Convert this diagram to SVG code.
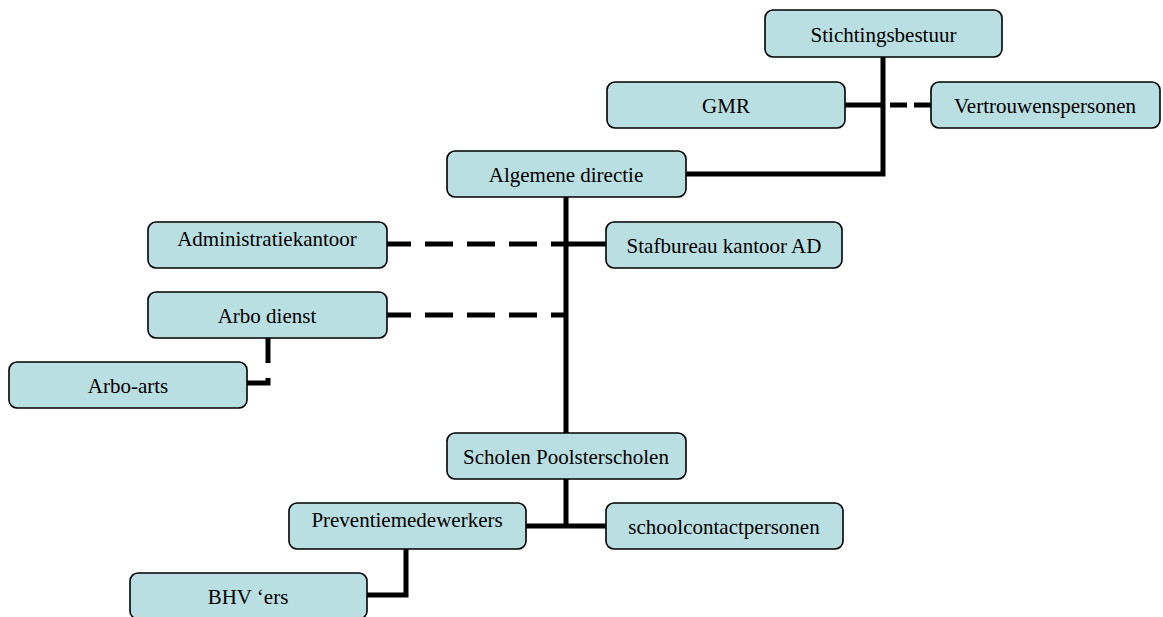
<svg xmlns="http://www.w3.org/2000/svg" width="1163" height="617" viewBox="0 0 1163 617">
<style>
.box{fill:#b9dfe3;stroke:#000;stroke-width:1.6}
.lbl{font-family:"Liberation Serif","Times New Roman",serif;font-size:21px;fill:#000;text-anchor:middle}
.ln{fill:none;stroke:#000;stroke-width:5}
.dash{stroke-dasharray:28 14}
</style>
<rect width="1163" height="617" fill="#fff"/>
<g id="connectors">
<path class="ln" d="M883,57 V174 H686"/>
<path class="ln" d="M845,105 H883"/>
<path class="ln" d="M890,105 H931" stroke-dasharray="17 7"/>
<path class="ln" d="M566,197 V433"/>
<path class="ln" d="M566,244 H606"/>
<path class="ln dash" d="M387,244 H567" stroke-dashoffset="4"/>
<path class="ln dash" d="M387,315 H567" stroke-dashoffset="4"/>
<path class="ln" d="M268,338 V383 H247" stroke-dasharray="25 15 40"/>
<path class="ln" d="M566,479 V526"/>
<path class="ln" d="M526,526 H606"/>
<path class="ln" d="M406,549 V595 H367"/>
</g>
<g id="stichtingsbestuur"><rect class="box" x="765" y="10" width="237" height="47" rx="8"/><text class="lbl" x="883.5" y="41.5">Stichtingsbestuur</text></g>
<g id="gmr"><rect class="box" x="607" y="82" width="238" height="46" rx="8"/><text class="lbl" x="726" y="112.5">GMR</text></g>
<g id="vertrouwenspersonen"><rect class="box" x="931" y="82" width="229" height="46" rx="8"/><text class="lbl" x="1045" y="112.5">Vertrouwenspersonen</text></g>
<g id="algemene-directie"><rect class="box" x="447" y="151" width="239" height="46" rx="8"/><text class="lbl" x="566" y="181.5">Algemene directie</text></g>
<g id="administratiekantoor"><rect class="box" x="148" y="222" width="239" height="46" rx="8"/><text class="lbl" x="267" y="246">Administratiekantoor</text></g>
<g id="stafbureau"><rect class="box" x="606" y="222" width="236" height="46" rx="8"/><text class="lbl" x="724" y="252.5">Stafbureau kantoor AD</text></g>
<g id="arbo-dienst"><rect class="box" x="148" y="292" width="239" height="46" rx="8"/><text class="lbl" x="267" y="322.5">Arbo dienst</text></g>
<g id="arbo-arts"><rect class="box" x="9" y="362" width="238" height="46" rx="8"/><text class="lbl" x="128" y="392.5">Arbo-arts</text></g>
<g id="scholen"><rect class="box" x="447" y="433" width="239" height="46" rx="8"/><text class="lbl" x="566" y="463.5">Scholen Poolsterscholen</text></g>
<g id="preventiemedewerkers"><rect class="box" x="289" y="503" width="237" height="46" rx="8"/><text class="lbl" x="407" y="527">Preventiemedewerkers</text></g>
<g id="schoolcontactpersonen"><rect class="box" x="606" y="503" width="237" height="46" rx="8"/><text class="lbl" x="724" y="533.5">schoolcontactpersonen</text></g>
<g id="bhv"><rect class="box" x="130" y="573" width="237" height="46" rx="8"/><text class="lbl" x="248" y="603.5">BHV ‘ers</text></g>
</svg>
